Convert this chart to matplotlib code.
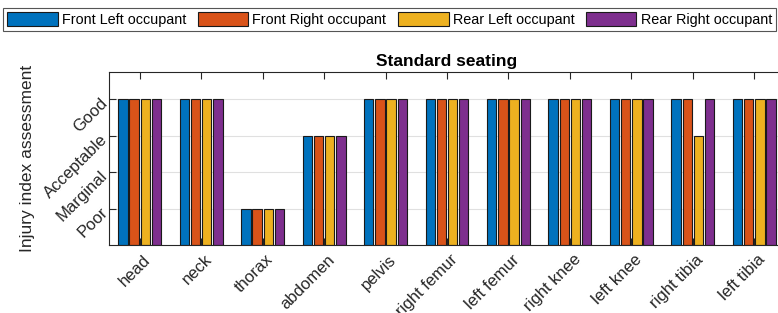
import numpy as np
import matplotlib
matplotlib.use('Agg')
import matplotlib.pyplot as plt
import matplotlib.transforms as mtransforms

#%% data
parts = ['head', 'neck', 'thorax', 'abdomen', 'pelvis', 'right femur',
         'left femur', 'right knee', 'left knee', 'right tibia', 'left tibia']
occupants = ['Front Left occupant', 'Front Right occupant',
             'Rear Left occupant', 'Rear Right occupant']
front_left = [4, 4, 1, 3, 4, 4, 4, 4, 4, 4, 4]
front_right = [4, 4, 1, 3, 4, 4, 4, 4, 4, 4, 4]
rear_left = [4, 4, 1, 3, 4, 4, 4, 4, 4, 3, 4]
rear_right = [4, 4, 1, 3, 4, 4, 4, 4, 4, 4, 4]
levels = ['Poor', 'Marginal', 'Acceptable', 'Good']

#%% style
plt.rcParams['font.family'] = ['Liberation Sans', 'DejaVu Sans']
colors = ['#0072BD', '#D95319', '#EDB120', '#7E2F8E']
dark = '#262626'

fig = plt.figure(figsize=(7.78, 3.13), dpi=100)
ax = fig.add_axes([109/778, 1-245/313, (785-109)/778, (245-72)/313])

x = np.arange(len(parts))
offsets = [-0.273, -0.091, 0.091, 0.273]
series = [front_left, front_right, rear_left, rear_right]
for s, off, c, lab in zip(series, offsets, colors, occupants):
    ax.bar(x + off, s, width=0.152, color=c, edgecolor='#1a1a1a', lw=0.8, label=lab)

ax.set_xlim(-0.5, 10.5)
ax.set_ylim(0, 4.75)
ax.set_xticks(x)
ax.set_xticklabels(parts, rotation=45, ha='right', rotation_mode='anchor', fontsize=12)
ax.set_yticks([1, 2, 3, 4])
ax.set_yticklabels(levels, rotation=45, ha='right', rotation_mode='anchor', fontsize=12)
ax.set_axisbelow(True)
ax.grid(True, axis='y', color='#e0e0e0', lw=0.8)
ax.tick_params(direction='in', top=True, right=True, length=5, color=dark, labelcolor=dark)
ax.tick_params(axis='x', pad=5)
# nudge the rotated x labels a bit to the right, like matlab does
shift = mtransforms.ScaledTranslation(3/100, 0, fig.dpi_scale_trans)
for lab in ax.get_xticklabels():
    lab.set_transform(lab.get_transform() + shift)
for sp in ax.spines.values():
    sp.set_color(dark)
    sp.set_linewidth(0.8)
ax.set_ylabel('Injury index assessment', fontsize=12.5, color=dark, labelpad=5)
ax.set_title('Standard seating', fontsize=12.5, fontweight='bold', color='black', pad=4)

leg = fig.legend(loc='upper left', bbox_to_anchor=(3/778, 1-8/313), ncol=4, fontsize=10.4,
                 handlelength=3.5, handleheight=1.05, handletextpad=0.28,
                 columnspacing=0.8, borderpad=0.3, borderaxespad=0, fancybox=False,
                 framealpha=1, edgecolor='#555555')
leg.get_frame().set_linewidth(0.8)

fig.savefig('out.png', dpi=100)
